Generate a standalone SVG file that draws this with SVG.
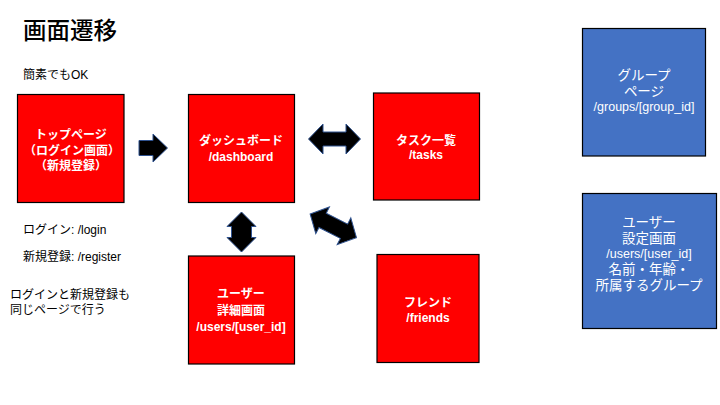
<svg xmlns="http://www.w3.org/2000/svg" width="720" height="405" viewBox="0 0 720 405">
<style>
text{font-family:"Liberation Sans","Noto Sans CJK JP",sans-serif;}
.red{fill:#FF0000;stroke:#000;stroke-width:1.2;}
.blue{fill:#4472C4;stroke:#000;stroke-width:1.2;}
.wb{fill:#fff;font-size:12px;font-weight:bold;text-anchor:middle;}
.wn{fill:#fff;font-size:13.5px;text-anchor:middle;}
.wl{fill:#fff;font-size:12.5px;text-anchor:middle;}
.note{fill:#000;font-size:12px;}
.arr{fill:#000;stroke:#2F528F;stroke-width:1;stroke-linejoin:miter;}
</style>
<rect width="720" height="405" fill="#fff"/>
<text x="23" y="39" style="font-size:23.5px;font-weight:500;fill:#000">画面遷移</text>
<text class="note" x="23" y="79">簡素でもOK</text>
<text class="note" x="23" y="234">ログイン: /login</text>
<text class="note" x="23" y="261">新規登録: /register</text>
<text class="note" x="10" y="299">ログインと新規登録も</text>
<text class="note" x="10" y="314">同じページで行う</text>

<g id="top">
<rect class="red" x="17.5" y="94.5" width="106.5" height="108"/>
<text class="wb" x="71" y="139">トップページ</text>
<text class="wb" x="72" y="155">（ログイン画面）</text>
<text class="wb" x="71" y="170">（新規登録）</text>
</g>
<g id="dashboard">
<rect class="red" x="188.5" y="94.5" width="106" height="108"/>
<text class="wb" x="241" y="145">ダッシュボード</text>
<text class="wb" x="241" y="161">/dashboard</text>
</g>
<g id="tasks">
<rect class="red" x="373.5" y="93" width="106" height="107"/>
<text class="wb" x="426" y="145">タスク一覧</text>
<text class="wb" x="426" y="159">/tasks</text>
</g>
<g id="user-detail">
<rect class="red" x="188.5" y="256" width="106" height="108"/>
<text class="wb" x="241" y="298">ユーザー</text>
<text class="wb" x="241" y="315">詳細画面</text>
<text class="wb" x="241" y="331">/users/[user_id]</text>
</g>
<g id="friends">
<rect class="red" x="377" y="254.5" width="102" height="108"/>
<text class="wb" x="428" y="307">フレンド</text>
<text class="wb" x="428" y="322">/friends</text>
</g>
<g id="group">
<rect class="blue" x="582.5" y="28.5" width="123" height="127.5"/>
<text class="wn" x="644" y="80">グループ</text>
<text class="wn" x="644" y="96">ページ</text>
<text class="wl" x="644" y="111">/groups/[group_id]</text>
</g>
<g id="user-settings">
<rect class="blue" x="582.5" y="193.5" width="134" height="135"/>
<text class="wn" x="649" y="227">ユーザー</text>
<text class="wn" x="649" y="243">設定画面</text>
<text class="wl" x="649" y="258">/users/[user_id]</text>
<text class="wn" x="649" y="274">名前・年齢・</text>
<text class="wn" x="649" y="290">所属するグループ</text>
</g>

<g id="connectors">
<polygon class="arr" points="139,140.5 153,140.5 153,134 167.5,148 153,162 153,155.5 139,155.5"/>
<polygon class="arr" points="308.5,139 323,124 323,132 346,132 346,124 360.5,139 346,154 346,146 323,146 323,154"/>
<polygon class="arr" points="241.5,212 256,226.5 251.5,226.5 251.5,237.5 256,237.5 241.5,252 227,237.5 231.5,237.5 231.5,226.5 227,226.5"/>
<polygon class="arr" transform="translate(333.3,225.8) rotate(27)" points="-26,0 -12,-15 -12,-8 12,-8 12,-15 26,0 12,15 12,8 -12,8 -12,15"/>
</g>
</svg>
